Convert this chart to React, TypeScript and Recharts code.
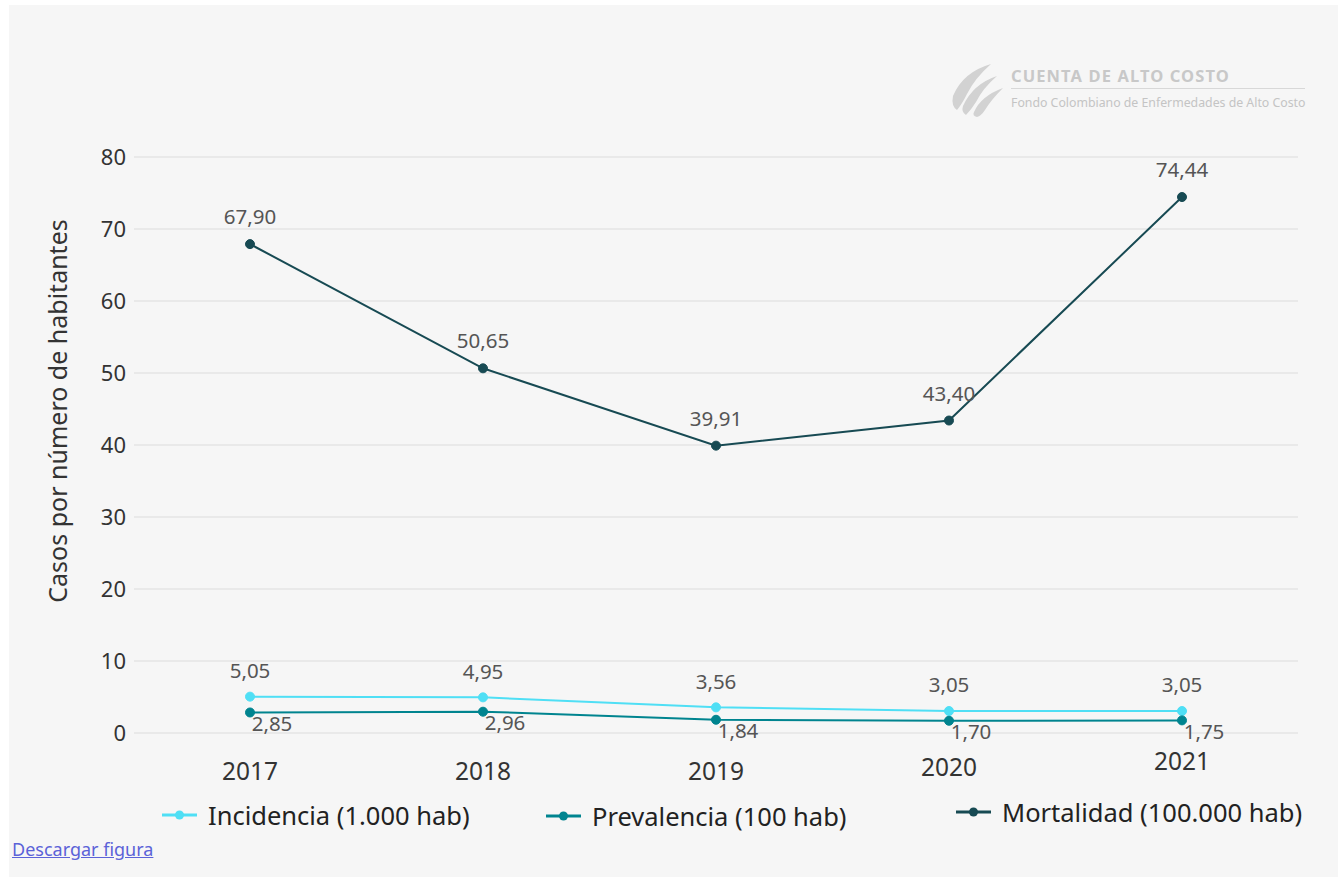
import { LineChart, Line, XAxis, YAxis, CartesianGrid, LabelList } from 'recharts';

const YEARS = ['2017', '2018', '2019', '2020', '2021'];
const INCIDENCIA = [5.05, 4.95, 3.56, 3.05, 3.05];
const PREVALENCIA = [2.85, 2.96, 1.84, 1.7, 1.75];
const MORTALIDAD = [67.9, 50.65, 39.91, 43.4, 74.44];
const Y_TICKS = [0, 10, 20, 30, 40, 50, 60, 70, 80];

const FONT = '"Noto Sans", Lato, sans-serif';

const data = YEARS.map((year, i) => ({
    year,
    incidencia: INCIDENCIA[i],
    prevalencia: PREVALENCIA[i],
    mortalidad: MORTALIDAD[i],
}));

const SERIES = [
    { key: 'incidencia', name: 'Incidencia (1.000 hab)', color: '#4fdff5', labelDx: 0, labelDy: -26, legendX: 153, legendY: 795 },
    { key: 'prevalencia', name: 'Prevalencia (100 hab)', color: '#00848f', labelDx: 22, labelDy: 11, legendX: 537, legendY: 796 },
    { key: 'mortalidad', name: 'Mortalidad (100.000 hab)', color: '#174a53', labelDx: 0, labelDy: -27, legendX: 947, legendY: 792 },
];

// the original's year labels are not all on one line
const X_TICK_SHIFT = [0, 0, 0, -4, -10];

const fmt = (v: number) => v.toFixed(2).replace('.', ',');

function makeLabel(dx: number, dy: number) {
    return (props: any) => {
        const { x, y, value } = props;
        return (
            <text
                x={x + dx}
                y={y + dy}
                dy="0.35em"
                textAnchor="middle"
                fill="#555"
                fontSize={20.5}
                fontFamily={FONT}
            >
                {fmt(Number(value))}
            </text>
        );
    };
}

function YearTick(props: any) {
    const { x, y, payload, index } = props;
    return (
        <text
            x={x}
            y={y + 30 + (X_TICK_SHIFT[index] ?? 0)}
            dy="0.35em"
            textAnchor="middle"
            fill="#333"
            fontSize={24.5}
            fontFamily={FONT}
        >
            {payload.value}
        </text>
    );
}

function Logo() {
    return (
        <div style={{ position: 'absolute', left: 934, top: 55, width: 370, height: 60 }}>
            <svg width={62} height={58} style={{ position: 'absolute', left: 0, top: 0 }}>
                <path d="M10 36 Q20 12 48 4 Q32 18 24 34 Q19 44 14 50 Q8 46 10 36 Z" fill="#d2d2d2" />
                <path d="M20 46 Q30 24 54 16 Q40 28 33 42 Q28 50 23 55 Q18 52 20 46 Z" fill="#d2d2d2" />
                <path d="M31 52 Q38 36 60 28 Q48 40 42 50 Q38 56 34 57 Q29 56 31 52 Z" fill="#d2d2d2" />
            </svg>
            <div
                style={{
                    position: 'absolute',
                    left: 68,
                    top: 6,
                    fontFamily: FONT,
                    fontWeight: 700,
                    fontSize: 16.5,
                    letterSpacing: 1.1,
                    lineHeight: '20px',
                    color: '#c8c8c8',
                    whiteSpace: 'nowrap',
                }}
            >
                CUENTA DE ALTO COSTO
            </div>
            <div style={{ position: 'absolute', left: 68, top: 28, width: 294, borderTop: '1px solid #d8d8d8' }} />
            <div
                style={{
                    position: 'absolute',
                    left: 68,
                    top: 35,
                    fontFamily: FONT,
                    fontSize: 12.3,
                    lineHeight: '15px',
                    color: '#c4c4c4',
                    whiteSpace: 'nowrap',
                }}
            >
                Fondo Colombiano de Enfermedades de Alto Costo
            </div>
        </div>
    );
}

export default function App() {
    return (
        <div
            style={{
                position: 'absolute',
                left: 9,
                top: 5,
                width: 1329,
                height: 880,
                background: '#f6f6f6',
                fontFamily: FONT,
            }}
        >
            <Logo />
            <div style={{ position: 'absolute', left: 0, top: 0 }}>
                <LineChart
                    width={1329}
                    height={800}
                    data={data}
                    margin={{ top: 152, right: 40, left: 0, bottom: 12 }}
                >
                    <CartesianGrid stroke="#dcdcdc" vertical={false} />
                    <XAxis
                        dataKey="year"
                        axisLine={false}
                        tickLine={false}
                        padding={{ left: 116, right: 116 }}
                        tick={<YearTick />}
                        height={60}
                    />
                    <YAxis
                        width={125}
                        domain={[0, 80]}
                        ticks={Y_TICKS}
                        axisLine={false}
                        tickLine={false}
                        tickMargin={2}
                        tick={{ fill: '#333', fontSize: 22, fontFamily: FONT }}
                        label={{
                            content: (p: any) => {
                                const vb = p.viewBox;
                                const cx = 49;
                                const cy = vb.y + vb.height / 2 - 34;
                                return (
                                    <text
                                        x={cx}
                                        y={cy}
                                        transform={`rotate(-90 ${cx} ${cy})`}
                                        textAnchor="middle"
                                        dy="0.35em"
                                        fill="#333"
                                        fontSize={25}
                                        fontFamily={FONT}
                                    >
                                        Casos por número de habitantes
                                    </text>
                                );
                            },
                        }}
                    />
                    {SERIES.map((s) => (
                        <Line
                            key={s.key}
                            dataKey={s.key}
                            name={s.name}
                            stroke={s.color}
                            strokeWidth={2}
                            dot={{ r: 4.5, fill: s.color, stroke: s.color, strokeWidth: 1 }}
                            activeDot={false}
                            isAnimationActive={false}
                        >
                            <LabelList dataKey={s.key} content={makeLabel(s.labelDx, s.labelDy)} />
                        </Line>
                    ))}
                </LineChart>
            </div>
            {SERIES.map((s) => (
                <div
                    key={s.key}
                    style={{
                        position: 'absolute',
                        left: s.legendX,
                        top: s.legendY,
                        height: 30,
                        display: 'flex',
                        alignItems: 'center',
                        whiteSpace: 'nowrap',
                    }}
                >
                    <svg width={36} height={12} style={{ marginRight: 10 }}>
                        <line x1={0} y1={6} x2={35} y2={6} stroke={s.color} strokeWidth={3} />
                        <circle cx={17.5} cy={6} r={4.5} fill={s.color} />
                    </svg>
                    <span style={{ fontSize: 25.5, lineHeight: '30px', color: '#222', fontFamily: FONT }}>{s.name}</span>
                </div>
            ))}
            <a
                href="#"
                style={{
                    position: 'absolute',
                    left: 3,
                    top: 832,
                    fontSize: 18,
                    lineHeight: '24px',
                    color: '#5b62d8',
                    fontFamily: FONT,
                }}
            >
                Descargar figura
            </a>
        </div>
    );
}
